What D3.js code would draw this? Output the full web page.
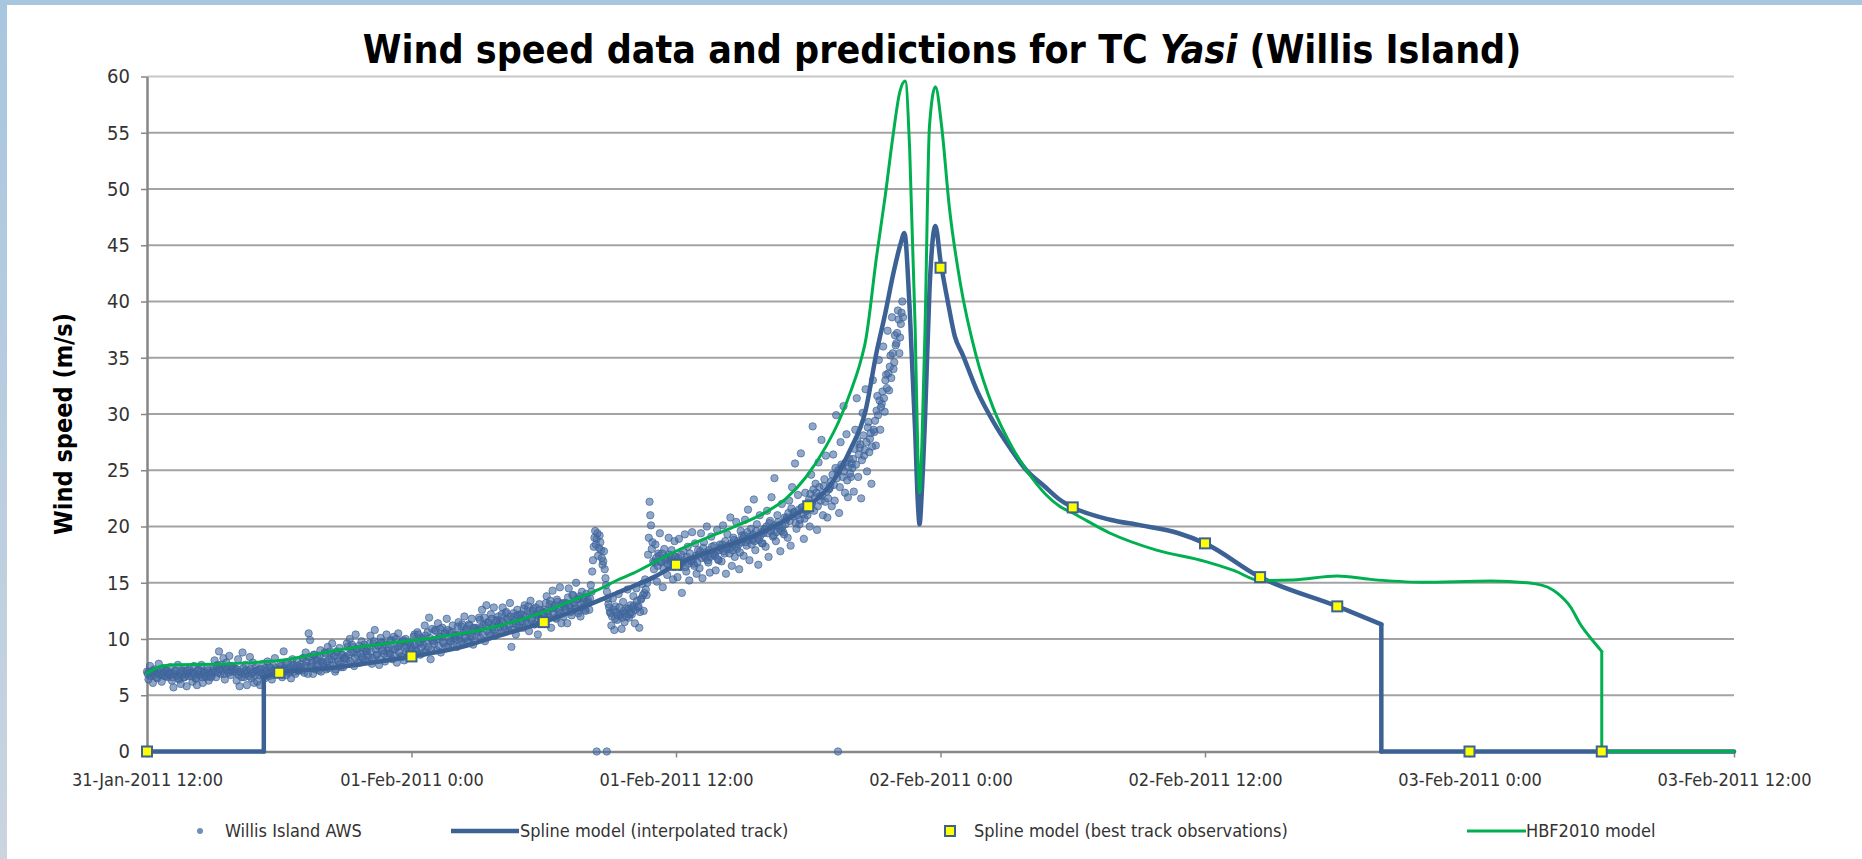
<!DOCTYPE html>
<html>
<head>
<meta charset="utf-8">
<script src="https://cdnjs.cloudflare.com/ajax/libs/d3/7.8.5/d3.min.js"></script>
<style>
body{margin:0;background:#fff;overflow:hidden;}
text{font-family:'DejaVu Sans Condensed','DejaVu Sans',sans-serif;}
</style>
</head>
<body>
<div id="chart"></div>
<script>
// all times are hours after 31-Jan-2011 12:00 (UTC used for formatting)
var startTime = Date.UTC(2011,0,31,12);
var xTickHours = [0,12,24,36,48,60,72];
var yTicks = [0,5,10,15,20,25,30,35,40,45,50,55,60];

// Spline model (interpolated track)
var splineTrack = [[0,0],[5.3,0],[5.3,6.6],[6,7.0],[8.25,7.4],[10,7.84],[12,8.45],[14.3,9.3],[16.06,10.35],
  [18,11.5],[19.5,12.6],[20.9,13.75],[22.07,14.7],[23,15.5],[24,16.6],[25.85,18.0],[27.4,19.05],[28.9,20.5],
  [30,21.8],[31.15,24.1],[31.9,26.8],[32.6,30.3],[33.1,35.5],[33.5,39],[33.85,42.4],[34.2,45.2],[34.36,46.1],
  [34.6,39.4],[34.85,28.5],[34.98,21.8],[35.05,20.2],[35.15,23],[35.3,29.7],[35.5,41],[35.77,46.7],[36,43.6],
  [36.33,40],[36.65,36.9],[37,35.3],[37.65,32.1],[38.4,29.3],[39.15,27],[39.9,25],[40.7,23.6],[41.4,22.4],
  [42,21.7],[43.7,20.6],[45.1,20.1],[46.8,19.4],[48,18.5],[50.5,15.5],[54,12.9],[56,11.3],[56,0],[72,0]];

// Spline model (best track observations)
var bestTrack = [[0,0],[6,7.0],[12,8.45],[18,11.5],[24,16.6],[30,21.8],[36,43.0],[42,21.7],[48,18.5],
  [50.5,15.5],[54,12.9],[60,0],[66,0]];

// HBF2010 model
var hbf2010 = [[0,6.95],[0.3,7.3],[0.6,7.55],[1.3,7.72],[3,7.75],[4.8,7.9],[6,8.08],[7.4,8.55],[9.1,9.15],
  [10.85,9.6],[12.6,10.0],[14.3,10.5],[16,11.2],[17.8,12.25],[19.5,13.6],[20.55,14.45],[21.3,15.2],[22.07,15.85],
  [23,16.8],[24,17.8],[25.1,18.75],[26.6,19.95],[28.1,21.3],[29,22.5],[29.9,24.4],[30.8,27.1],[31.4,29.4],
  [32,32.4],[32.35,34.5],[32.6,36.5],[33.1,44],[33.5,49.5],[33.85,54.8],[34.15,58.6],[34.4,59.6],[34.6,53.6],
  [34.85,37.7],[34.98,25.8],[35.05,23.0],[35.15,27],[35.3,37.7],[35.5,55.6],[35.77,59.1],[36.05,55.6],
  [36.4,48.4],[36.9,41.6],[37.6,35.3],[38.4,30.5],[39.15,27.4],[39.9,25.0],[40.8,22.8],[41.4,21.8],[42,21.2],
  [43.7,19.4],[45.8,17.9],[48,16.9],[49.3,16.1],[50.5,15.2],[52,15.25],[54,15.6],[55.5,15.3],[57.8,15.05],
  [61,15.15],[63,14.9],[64,14.05],[64.6,12.8],[65,11.4],[65.7,9.6],[66,8.9],[66,0],[72,0]];

// Willis Island AWS: one row per hour, readings every 4 minutes (minutes 0,4,8,...)
var awsRowsA = [
  [7.1,6.4,7.6,6.8,6.1,7.3,7.0,6.5,7.8,6.9,6.2,7.4,6.7,7.2,6.6],
  [6.9,7.5,6.3,5.7,7.1,6.8,7.7,6.4,6.0,7.2,6.6,7.4,5.8,6.9,7.3],
  [7.0,6.2,7.6,6.5,5.9,7.3,6.8,7.7,6.1,7.1,6.6,7.4,6.3,7.0,6.7],
  [7.2,8.1,6.6,7.7,8.9,6.9,7.5,8.3,6.4,7.9,7.1,8.5,6.8,7.6,7.3],
  [7.4,6.3,8.2,5.8,7.0,8.8,6.6,7.7,5.9,7.2,8.4,6.5,7.9,6.1,7.5],
  [6.2,7.3,5.9,6.9,7.8,6.5,7.1,8.0,6.7,7.4,6.4,7.6,8.3,6.9,7.2],
  [7.0,7.8,6.6,8.9,7.3,6.8,7.9,7.1,6.5,8.2,7.5,6.9,8.0,7.2,7.7],
  [7.4,8.3,7.0,8.8,7.6,10.5,9.9,8.1,6.9,8.6,7.8,8.4,7.2,9.0,8.0],
  [7.9,8.8,7.3,9.3,8.2,7.6,9.6,8.5,7.1,8.9,8.0,9.2,7.5,8.6,8.3],
  [8.4,9.6,7.8,10.0,8.8,9.3,7.6,10.4,8.6,9.1,7.9,9.8,8.3,9.5,8.9],
  [9.1,8.2,10.3,7.8,9.6,10.8,8.5,9.4,7.7,10.1,8.9,9.7,8.0,10.4,9.0],
  [8.7,9.9,8.2,10.2,9.1,7.9,10.5,9.4,8.5,9.8,8.1,10.0,9.3,8.6,9.6],
  [9.2,8.4,10.4,9.0,10.6,9.6,8.6,10.1,9.5,11.2,8.9,10.6,11.9,8.2,10.9],
  [9.9,10.8,9.0,11.4,10.2,8.8,11.0,9.6,10.5,11.8,9.3,10.7,9.8,11.2,10.1],
  [10.4,9.3,11.5,10.0,11.1,9.6,12.0,10.7,9.9,11.3,10.2,11.8,9.5,10.9,11.0],
  [10.8,11.9,10.1,12.6,11.3,9.8,13.0,11.5,10.5,12.2,11.0,12.8,10.3,11.7,12.0],
  [11.6,10.6,12.8,11.1,12.3,11.8,10.8,13.2,9.3,11.4,12.0,10.4,12.6,11.2,12.2],
  [12.1,11.0,13.0,11.6,12.5,10.7,13.4,11.9,12.7,11.3,12.2,10.4,13.1,11.8,12.4],
  [12.6,11.6,13.8,12.2,13.1,11.0,14.3,12.8,11.9,13.5,12.4,14.6,11.4,13.2,12.9],
  [13.2,11.4,14.5,12.8,12.1,13.9,13.0,15.0,12.5,13.6,12.0,14.2,13.3,12.6,14.0],
  [13.5,12.6,14.8,16.0,18.2,19.6,18.9,17.4,19.2,17.9,16.6,17.8,15.4,14.2,13.1],
  [12.4,11.2,13.6,10.8,12.9,11.7,14.0,12.1,10.9,13.3,11.5,12.7,14.4,11.9,13.0],
  [12.2,13.8,11.4,14.5,12.8,11.0,13.5,14.9,12.5,15.3,13.9,17.5,22.2,20.1,18.6],
  [16.2,18.4,15.1,17.6,19.4,16.8,14.6,18.0,17.1,15.7,19.0,16.5,17.9,15.3,18.7],
  [17.3,15.5,18.9,16.4,14.1,17.8,19.3,16.0,18.2,15.2,17.0,19.5,16.7,18.5,15.8],
  [17.9,16.3,19.4,15.4,18.6,17.2,20.0,16.8,15.9,19.1,17.5,18.3,16.1,19.7,17.0],
  [18.4,16.9,20.1,17.6,15.8,19.3,18.0,20.8,16.5,19.0,17.3,20.4,18.7,16.2,19.6],
  [19.2,17.4,20.6,18.3,21.5,17.0,19.8,18.8,22.4,17.9,20.2,16.6,21.0,19.5,18.5],
  [19.8,18.2,21.4,17.3,20.5,22.6,19.1,24.3,18.7,21.0,20.1,17.8,22.0,19.5,20.8],
  [20.6,19.0,22.3,18.3,23.5,21.2,25.6,19.8,22.8,20.2,26.5,21.7,18.9,23.0,21.4],
  [22.1,20.0,24.6,28.9,21.4,23.8,19.7,25.7,22.7,27.7,21.0,24.2,26.3,20.8,23.3],
  [23.6,21.8,26.4,22.3,29.9,24.8,21.2,27.5,25.3,30.7,23.0,28.2,22.6,26.0,24.4],
  [25.2,23.1,28.6,31.4,24.4,27.0,22.5,30.1,26.3,32.2,24.9,29.3,27.8,23.8,33.0],
  [28.4,27.2,31.6,34.8,28.6,30.9,36.0,30.2,33.5,37.4,32.1,35.2,38.6,34.0,37.0],
  [36.3,39.2,35.4,38.0,40.0]
];
// Willis Island AWS: the readings in between (minutes 2,6,10,...)
var awsRowsB = [
  [6.9,7.1,6.7,7.0,7.2,6.8,6.6,7.1,6.9,7.3,6.8,7.0,6.7,7.2,6.9],
  [6.8,7.0,6.6,6.9,7.2,6.7,6.5,7.0,6.8,7.1,6.6,6.9,7.2,6.7,7.0],
  [6.7,7.0,6.9,6.5,7.2,6.8,7.1,6.6,6.9,7.0,6.7,7.2,6.8,6.6,7.0],
  [7.4,7.1,7.6,7.0,7.3,7.7,7.2,6.9,7.5,7.3,7.0,7.6,7.2,7.4,7.1],
  [7.0,7.3,6.8,7.1,6.6,7.4,6.9,7.2,7.0,6.7,7.3,6.9,7.1,6.8,7.2],
  [7.1,6.8,7.3,7.0,6.7,7.4,7.2,6.9,7.5,7.0,6.8,7.2,7.4,7.1,6.9],
  [7.3,7.6,7.1,7.4,7.8,7.2,7.0,7.5,7.3,7.7,7.1,7.4,7.6,7.2,7.5],
  [7.2,8.3,7.6,8.0,6.9,8.4,7.5,7.9,8.6,7.3,8.1,7.7,8.5,7.1,7.8],
  [7.6,8.7,8.0,7.4,8.9,8.2,7.7,8.5,7.3,8.8,8.0,7.8,8.6,7.5,8.3],
  [8.2,9.3,8.6,8.0,9.5,8.8,8.3,9.1,7.9,9.4,8.7,8.4,9.2,8.1,8.9],
  [8.5,9.6,8.9,8.3,9.8,9.1,8.6,9.4,8.2,9.7,9.0,8.7,9.5,8.4,9.2],
  [8.7,9.8,9.1,8.5,10.0,9.3,8.8,9.6,8.4,9.9,9.2,8.9,9.7,8.6,9.4],
  [9.1,10.2,9.5,8.9,10.4,9.7,9.2,10.0,8.8,10.3,9.6,9.3,10.1,9.0,9.8],
  [9.6,10.7,10.0,9.4,10.9,10.2,9.7,10.5,9.3,10.8,10.1,9.8,10.6,9.5,10.3],
  [10.0,11.1,10.4,9.8,11.3,10.6,10.1,10.9,9.7,11.2,10.5,10.2,11.0,9.9,10.7],
  [10.6,11.7,11.0,10.4,11.9,11.2,10.7,11.5,10.3,11.8,11.1,10.8,11.6,10.5,11.3],
  [11.1,12.2,11.5,10.9,12.4,11.7,11.2,12.0,10.8,12.3,11.6,11.3,12.1,11.0,11.8],
  [11.6,12.7,12.0,11.4,12.9,12.2,11.7,12.5,11.3,12.8,12.1,11.8,12.6,11.5,12.3],
  [12.1,13.2,12.5,11.9,13.4,12.7,12.2,13.0,11.8,13.3,12.6,12.3,13.1,12.0,12.8],
  [12.6,13.7,13.0,12.4,13.9,13.2,12.7,13.5,12.3,13.8,13.1,12.8,13.6,12.5,13.3],
  [13.2,13.6,14.2,17.0,19.0,18.4,19.4,18.1,18.6,17.2,16.9,16.2,14.8,13.6,12.8],
  [12.3,12.0,12.6,11.8,12.4,12.1,12.8,12.2,11.9,12.5,12.3,12.0,12.7,12.2,12.4],
  [12.8,13.0,12.6,13.4,12.9,12.4,13.6,13.9,14.1,14.4,15.0,19.0,21.0,18.0,16.9],
  [16.8,17.2,16.5,17.4,16.9,17.6,16.3,17.0,17.3,16.6,17.5,16.9,17.1,16.4,17.3],
  [16.9,17.2,16.6,17.5,16.8,17.0,16.4,17.3,16.7,17.6,16.9,17.1,16.5,17.4,16.8],
  [17.5,17.8,17.2,18.1,17.4,17.7,17.0,17.9,17.3,18.2,17.6,17.4,17.8,17.1,17.9],
  [18.1,18.4,17.8,18.7,18.0,18.3,17.6,18.5,17.9,18.8,18.2,18.0,18.4,17.7,18.6],
  [18.9,19.2,18.6,19.5,18.8,19.1,18.4,19.3,18.7,19.6,19.0,18.8,19.2,18.5,19.4],
  [19.7,20.0,19.4,20.3,19.6,19.9,19.2,20.1,19.5,20.4,19.8,19.6,20.0,19.3,20.2],
  [20.8,21.2,20.5,21.6,20.9,21.3,20.3,21.0,21.5,20.6,21.7,21.1,20.7,21.4,21.0],
  [22.4,22.9,22.0,23.3,22.6,23.0,21.8,23.5,22.3,22.8,23.6,22.2,23.1,22.5,23.4],
  [24.0,24.6,23.7,25.2,24.3,25.0,23.5,25.5,24.4,24.9,25.7,24.1,25.3,24.7,25.6],
  [26.0,26.9,25.5,27.6,26.4,27.3,25.9,28.1,26.8,27.5,28.8,26.6,28.3,27.1,28.6],
  [29.4,30.3,29.9,31.2,30.6,32.0,31.4,33.0,32.3,33.6,34.2,33.2,35.4,34.6,36.1],
  [37.2,38.4,36.8,39.0,38.6]
];
var awsZeros = [[20.4,0],[20.86,0],[31.35,0]];

var legendItems = ["Willis Island AWS","Spline model (interpolated track)","Spline model (best track observations)","HBF2010 model"];

var W = 1862, H = 859;
var blue = "#3b6195", green = "#00b050";

var svg = d3.select("#chart").append("svg").attr("width",W).attr("height",H);
svg.append("rect").attr("width",W).attr("height",H).attr("fill","#fff");

// frame strips of the original screenshot
var grad = svg.append("defs").append("linearGradient").attr("id","side").attr("x1",0).attr("y1",0).attr("x2",0).attr("y2",1);
grad.append("stop").attr("offset","0%").attr("stop-color","#a8c6de");
grad.append("stop").attr("offset","100%").attr("stop-color","#c9d5df");
svg.append("rect").attr("x",0).attr("y",0).attr("width",W).attr("height",5).attr("fill","#a8c6de");
svg.append("rect").attr("x",0).attr("y",0).attr("width",7).attr("height",H).attr("fill","url(#side)");

function toDate(h){ return new Date(startTime + h*3600000); }

var x = d3.scaleUtc().domain([toDate(0),toDate(72)]).range([147,1734]);
var y = d3.scaleLinear().domain([0,60]).range([751.5,76.5]);

// gridlines
svg.append("g").selectAll("line").data(yTicks.filter(function(d){return d>0;}))
  .enter().append("line")
  .attr("x1",147).attr("x2",1734)
  .attr("y1",function(d){return y(d);}).attr("y2",function(d){return y(d);})
  .attr("stroke",function(d){return d==60?"#c8c8c8":"#a3a3a3";})
  .attr("stroke-width",2);

// axes
var fmt = d3.utcFormat("%d-%b-%Y %-H:%M");
var xAxis = svg.append("g").attr("transform","translate(0,751.5)")
  .call(d3.axisBottom(x).tickValues(xTickHours.map(toDate)).tickFormat(fmt).tickSize(6).tickSizeOuter(0).tickPadding(16));
var yAxis = svg.append("g").attr("transform","translate(147,0)")
  .call(d3.axisLeft(y).tickValues(yTicks).tickSize(6).tickSizeOuter(0).tickPadding(11));
[xAxis,yAxis].forEach(function(a){
  a.select(".domain").attr("stroke","#878787").attr("stroke-width",2.5);
  a.selectAll(".tick line").attr("stroke","#878787").attr("stroke-width",1.5);
  a.selectAll("text").attr("font-size",18).attr("fill","#333").attr("font-family",null);
});
yAxis.selectAll("text").attr("font-size",20);

// AWS scatter
var awsPoints = [];
awsRowsA.forEach(function(row,h){
  row.forEach(function(v,i){ awsPoints.push([h + i/15, v]); });
});
awsRowsB.forEach(function(row,h){
  row.forEach(function(v,i){ awsPoints.push([h + (i+0.5)/15, v]); });
});
awsPoints = awsPoints.concat(awsZeros);
svg.append("g").selectAll("circle").data(awsPoints).enter().append("circle")
  .attr("cx",function(d){return x(toDate(d[0]));})
  .attr("cy",function(d){return y(d[1]);})
  .attr("r",3.7)
  .attr("fill","#476da3").attr("fill-opacity",0.6)
  .attr("stroke","#3b6195").attr("stroke-opacity",0.65).attr("stroke-width",1);

// split a series into runs so vertical jumps are drawn straight
function runs(pts){
  var out=[[pts[0]]];
  for(var i=1;i<pts.length;i++){
    var prev=pts[i-1], p=pts[i];
    if(p[0]===prev[0]){ out.push([prev,p]); out.push([p]); }
    else out[out.length-1].push(p);
  }
  return out.filter(function(r){return r.length>1;});
}
function drawSeries(pts,color,width){
  var g = svg.append("g");
  runs(pts).forEach(function(r){
    var vertical = r[0][0]===r[1][0];
    var line = d3.line()
      .x(function(d){return x(toDate(d[0]));})
      .y(function(d){return y(d[1]);})
      .curve(vertical ? d3.curveLinear : d3.curveMonotoneX);
    g.append("path").attr("d",line(r)).attr("fill","none")
      .attr("stroke",color).attr("stroke-width",width)
      .attr("stroke-linejoin","round").attr("stroke-linecap","round");
  });
}
drawSeries(splineTrack,blue,4.5);
drawSeries(hbf2010,green,3);

// best track squares
svg.append("g").selectAll("rect").data(bestTrack).enter().append("rect")
  .attr("x",function(d){return x(toDate(d[0]))-5;})
  .attr("y",function(d){return y(d[1])-5;})
  .attr("width",10).attr("height",10)
  .attr("fill","#ffff00").attr("stroke",blue).attr("stroke-width",2);

// title
var title = svg.append("text").attr("x",942).attr("y",63).attr("text-anchor","middle")
  .attr("font-size",39).attr("font-weight","bold").attr("fill","#000");
title.append("tspan").text("Wind speed data and predictions for TC ");
title.append("tspan").attr("font-style","italic").text("Yasi");
title.append("tspan").text(" (Willis Island)");

// y label
svg.append("text").attr("transform","translate(72,424) rotate(-90)").attr("text-anchor","middle")
  .attr("font-size",25).attr("font-weight","bold").attr("fill","#000").text("Wind speed (m/s)");

// legend
var ly = 831;
var lg = svg.append("g").attr("font-size",18).attr("fill","#333");
lg.append("circle").attr("cx",200).attr("cy",ly).attr("r",3).attr("fill","#6f8fbb");
lg.append("text").attr("x",225).attr("y",ly).attr("dy","0.35em").text(legendItems[0]);
lg.append("line").attr("x1",451).attr("x2",519).attr("y1",ly).attr("y2",ly).attr("stroke",blue).attr("stroke-width",4.5);
lg.append("text").attr("x",520).attr("y",ly).attr("dy","0.35em").text(legendItems[1]);
lg.append("rect").attr("x",945).attr("y",ly-5).attr("width",10).attr("height",10).attr("fill","#ffff00").attr("stroke",blue).attr("stroke-width",2);
lg.append("text").attr("x",974).attr("y",ly).attr("dy","0.35em").text(legendItems[2]);
lg.append("line").attr("x1",1467).attr("x2",1526).attr("y1",ly).attr("y2",ly).attr("stroke",green).attr("stroke-width",3);
lg.append("text").attr("x",1526).attr("y",ly).attr("dy","0.35em").text(legendItems[3]);
</script>
</body>
</html>
